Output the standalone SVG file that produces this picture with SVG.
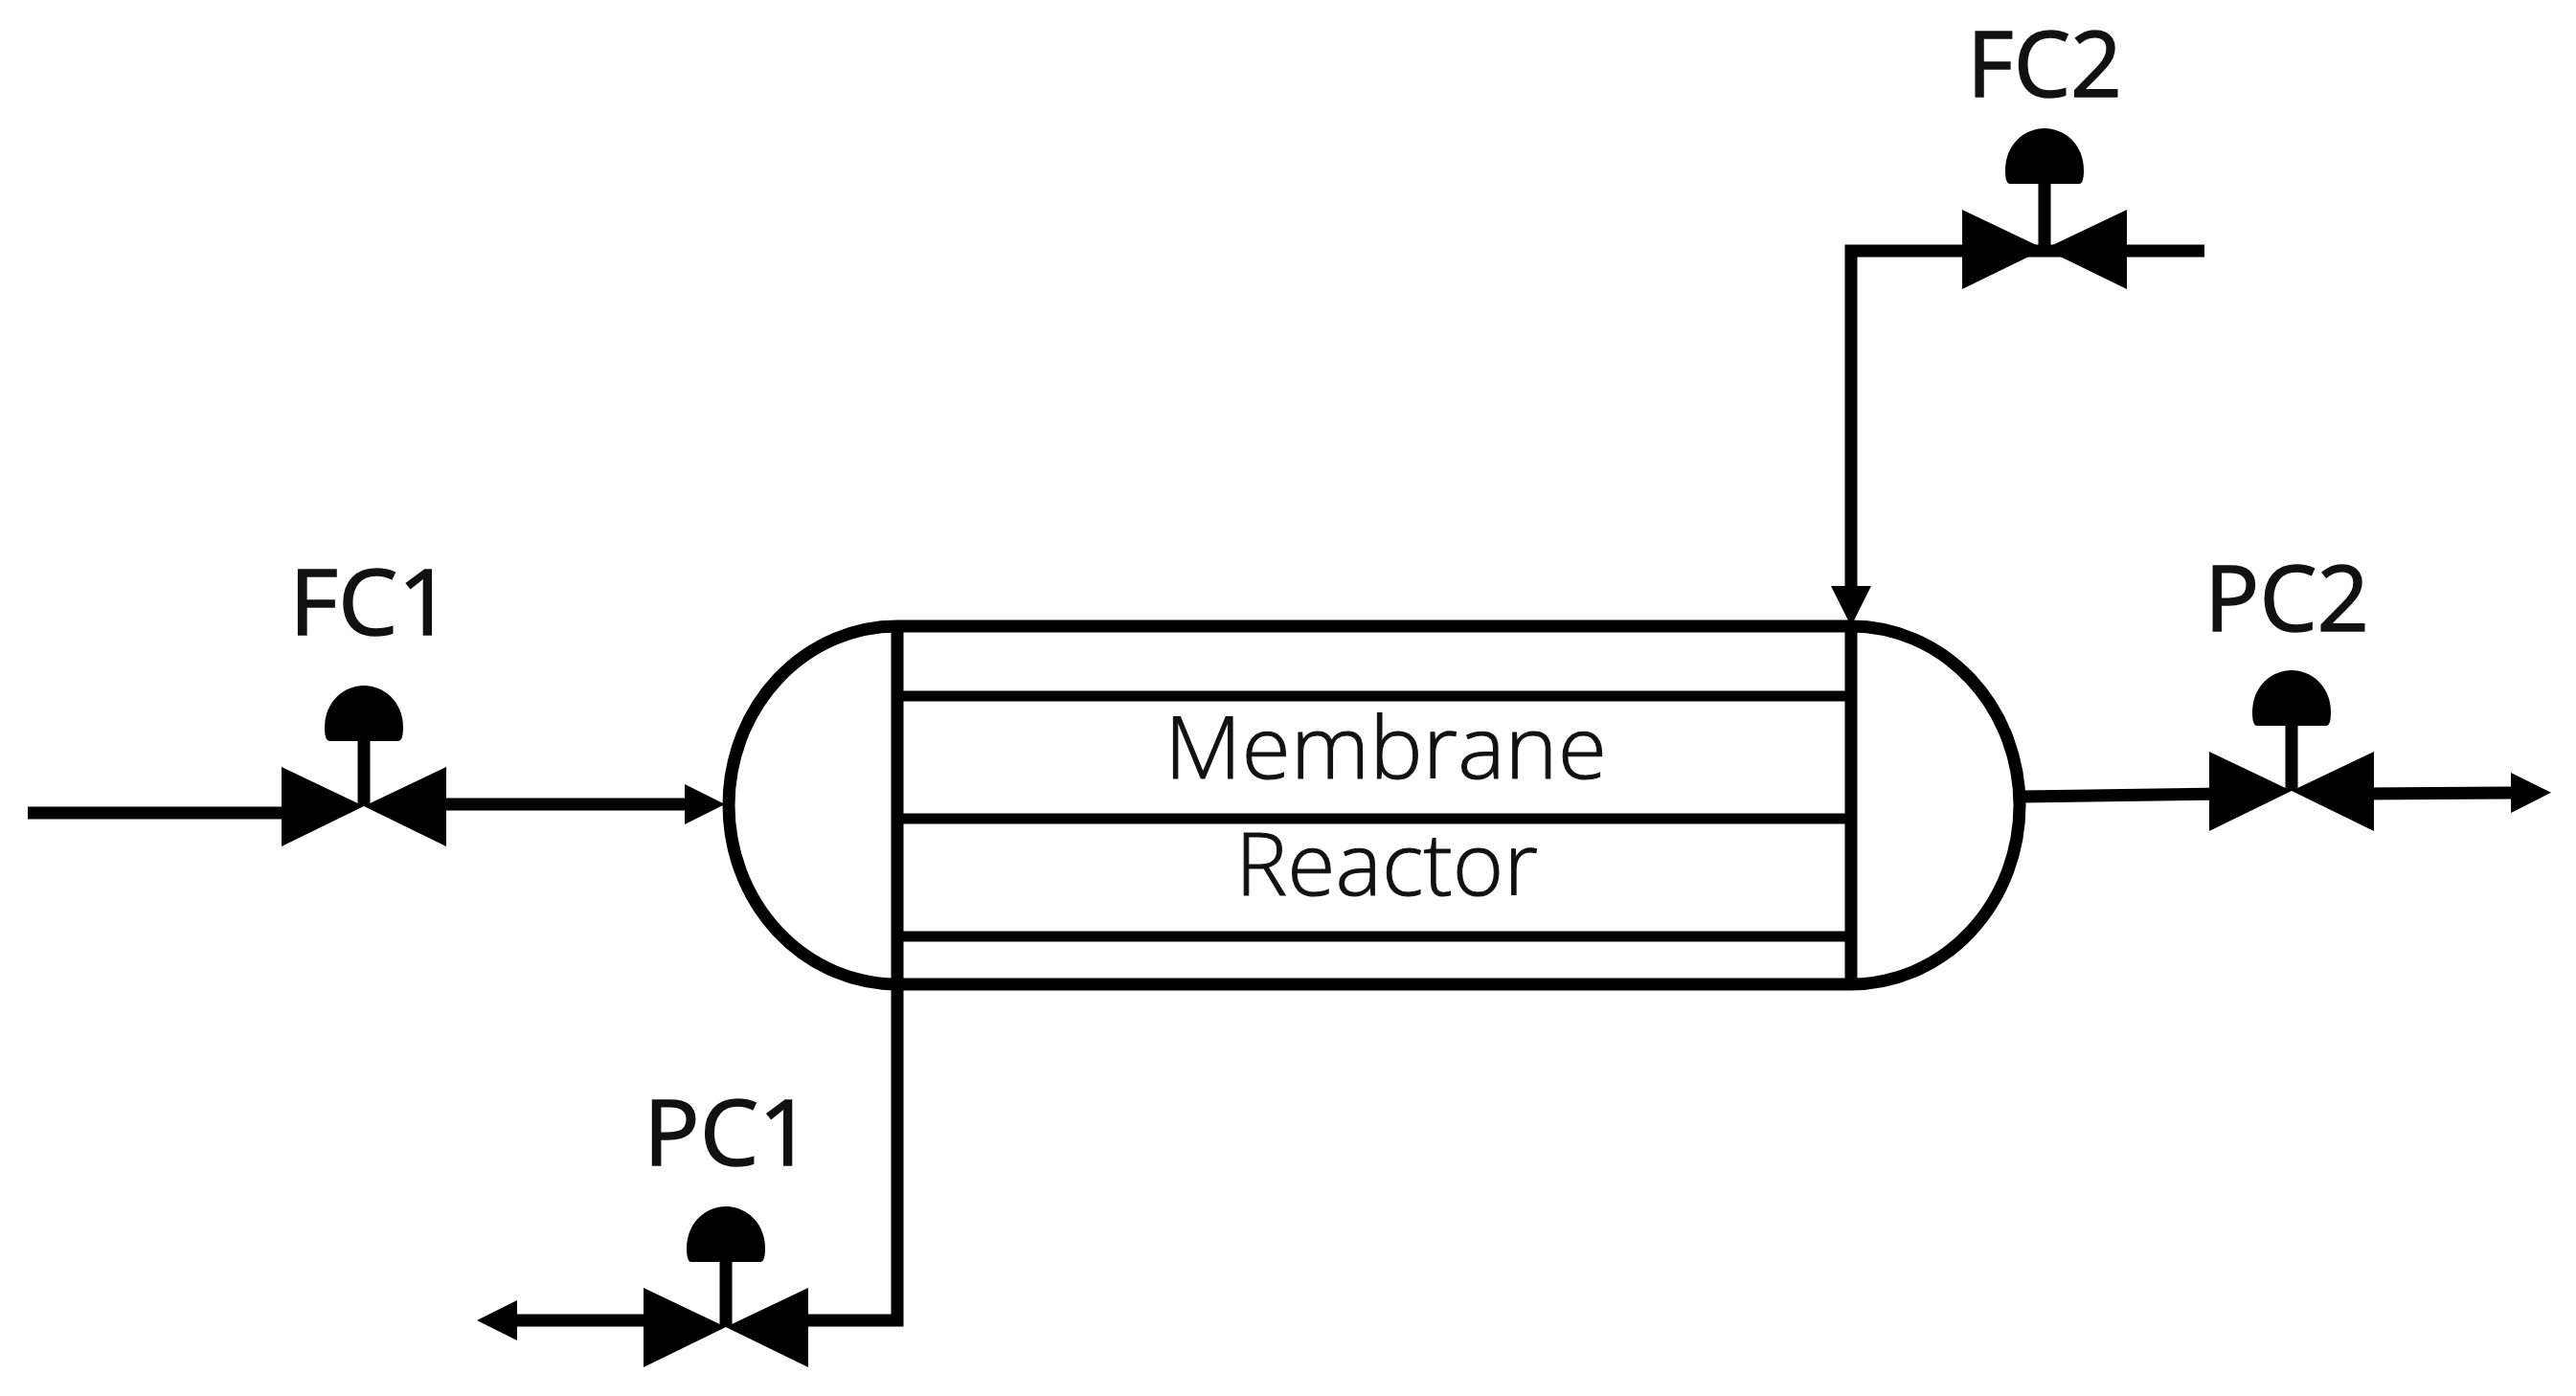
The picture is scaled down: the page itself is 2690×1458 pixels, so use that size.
<svg xmlns="http://www.w3.org/2000/svg" width="2690" height="1458" viewBox="0 0 2690 1458">
<style>
.pipe{fill:none;stroke:#000;stroke-width:13}
.bar{fill:none;stroke:#000;stroke-width:11}
.wall{fill:none;stroke:#000;stroke-width:13}
.tag{font-family:"Open Sans","Liberation Sans",sans-serif;font-size:96px;fill:#111;stroke:#111;stroke-width:1.5}
.title{font-family:"Open Sans","Liberation Sans",sans-serif;font-size:91px;font-weight:300;fill:#111;stroke:#111;stroke-width:1}
</style>
<defs>
<marker id="arrow" markerUnits="userSpaceOnUse" markerWidth="42" markerHeight="44" refX="0" refY="22" orient="auto">
<path d="M0,1L42,22L0,43Z" fill="#000"/>
</marker>
<g id="valve">
<path d="M-86,-41L0,0L-86,42Z M86,-41L0,0L86,42Z" fill="#000"/>
<path d="M0,-70V0" stroke="#000" stroke-width="13" fill="none"/>
<path d="M-36,-68Q-41,-68 -41,-82C-41,-110 -20,-126 0,-126C20,-126 41,-110 41,-82Q41,-68 36,-68Z" fill="#000"/>
</g>
</defs>
<rect width="2690" height="1458" fill="#fff"/>
<g id="connectors">
<path class="pipe" d="M29,849H310"/>
<path class="pipe" d="M450,840H715" marker-end="url(#arrow)"/>
<path class="pipe" d="M937,1028V1379H830"/>
<path class="pipe" d="M690,1379H540" marker-end="url(#arrow)"/>
<path class="pipe" d="M2302,262H1933V612" marker-end="url(#arrow)"/>
<path class="pipe" d="M2112,832L2325,829"/>
<path class="pipe" d="M2465,829L2622,828" marker-end="url(#arrow)"/>
</g>
<g id="reactor">
<path class="wall" d="M937,654H1933A176,187 0 0 1 1933,1028H937A176,187 0 0 1 937,654Z"/>
<path class="bar" d="M937,727H1933M937,855H1933M937,978H1933"/>
<path class="wall" d="M937,654V1028M1933,654V1028"/>
<text class="title" x="1216" y="813" textLength="462" lengthAdjust="spacingAndGlyphs">Membrane</text>
<text class="title" x="1290" y="935" textLength="316" lengthAdjust="spacingAndGlyphs">Reactor</text>
</g>
<g id="FC1">
<use href="#valve" x="380" y="842"/>
<text class="tag" x="302" y="663" textLength="170" lengthAdjust="spacingAndGlyphs">FC1</text>
</g>
<g id="PC1">
<use href="#valve" x="758" y="1386"/>
<text class="tag" x="672" y="1217" textLength="176" lengthAdjust="spacingAndGlyphs">PC1</text>
</g>
<g id="FC2">
<use href="#valve" x="2135" y="260"/>
<text class="tag" x="2054" y="101" textLength="162" lengthAdjust="spacingAndGlyphs">FC2</text>
</g>
<g id="PC2">
<use href="#valve" x="2393" y="826"/>
<text class="tag" x="2302" y="659" textLength="172" lengthAdjust="spacingAndGlyphs">PC2</text>
</g>
</svg>
